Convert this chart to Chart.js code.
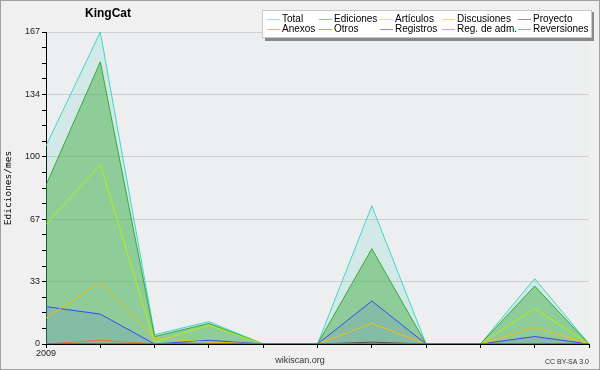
<!DOCTYPE html>
<html>
<head>
<meta charset="utf-8">
<script src="https://cdn.jsdelivr.net/npm/chart.js@4"></script>
<style>
  body { margin: 0; background: #f0f0f0; }
  canvas { display: block; }
</style>
</head>
<body>
<canvas id="chart" width="600" height="370"></canvas>
<script>
// months shown on the x axis (only the year is labelled)
const months = ['2009-01', '2009-02', '2009-03', '2009-04', '2009-05', '2009-06',
                '2009-07', '2009-08', '2009-09', '2009-10', '2009-11'];
const yearLabel = '2009';
const yMax = 167;
const yTickLabels = ['0', '33', '67', '100', '134', '167'];

const total       = [106, 167, 5, 12, 0, 0, 74, 0, 0, 35, 0];
const ediciones   = [85, 151, 4, 11, 0, 0, 51, 0, 0, 31, 0];
const articulos   = [64, 96, 1, 10, 0, 0, 0, 0, 0, 19, 0];
const discusiones = [14, 33, 3, 1, 0, 0, 11, 0, 0, 9, 0];
const proyecto    = [0, 0, 0, 0, 0, 0, 1, 0, 0, 0, 0];
const anexos      = [0, 2, 0, 0, 0, 0, 0, 0, 0, 0, 0];
const otros       = [0, 0, 0, 0, 0, 0, 0, 0, 0, 0, 0];
const registros   = [20, 16, 0, 2, 0, 0, 23, 0, 0, 4, 0];
const regAdm      = [0, 0, 0, 0, 0, 0, 0, 0, 0, 0, 0];
const reversiones = [0, 0, 0, 0, 0, 0, 0, 0, 0, 0, 0];

const FONT = "'Liberation Sans', Arial, sans-serif";

function line(label, data, color, order, fill) {
    return {
        label: label,
        data: data,
        borderColor: color,
        backgroundColor: fill || 'transparent',
        fill: fill ? 'origin' : false,
        borderWidth: 1,
        pointRadius: 0,
        tension: 0,
        order: order
    };
}

const datasets = [
    line('Total', total, '#3cd8c8', 20, 'rgba(60,210,190,0.15)'),
    line('Ediciones', ediciones, '#38a838', 19, 'rgba(60,170,60,0.45)'),
    line('Artículos', articulos, '#b0f010', 5),
    line('Discusiones', discusiones, '#f0c010', 6),
    line('Proyecto', proyecto, '#505050', 4),
    line('Anexos', anexos, '#f07030', 3),
    line('Otros', otros, '#9040f0', 2),
    line('Registros', registros, '#3c48f0', 18, 'rgba(64,64,255,0.12)'),
    line('Reg. de adm.', regAdm, '#e040f0', 1),
    line('Reversiones', reversiones, '#f03030', 0)
];

// legend grid: two rows of five
const legendCols = [267, 319, 380, 442, 518];
const legendRows = [
    ['Total', 'Ediciones', 'Artículos', 'Discusiones', 'Proyecto'],
    ['Anexos', 'Otros', 'Registros', 'Reg. de adm.', 'Reversiones']
];

const decor = {
    id: 'decor',
    beforeDraw(chart) {
        const ctx = chart.ctx;
        const a = chart.chartArea;
        ctx.save();
        ctx.fillStyle = '#f0f0f0';
        ctx.fillRect(0, 0, chart.width, chart.height);
        ctx.fillStyle = '#edeef0';
        ctx.fillRect(a.left, a.top, a.right - a.left, a.bottom - a.top);
        ctx.restore();
    },
    afterDraw(chart) {
        const ctx = chart.ctx;
        ctx.save();
        // title
        ctx.fillStyle = '#000';
        ctx.font = 'bold 12px ' + FONT;
        ctx.textAlign = 'center';
        ctx.textBaseline = 'middle';
        ctx.fillText('KingCat', 108, 14);

        // legend box
        ctx.fillStyle = '#888';
        ctx.fillRect(265, 12, 329, 29);
        ctx.fillStyle = '#fff';
        ctx.fillRect(262, 10, 330, 28);
        ctx.strokeStyle = '#c8c8c8';
        ctx.lineWidth = 1;
        ctx.strokeRect(262.5, 10.5, 329, 27);

        ctx.font = '10px ' + FONT;
        ctx.textAlign = 'left';
        legendRows.forEach((row, r) => {
            const y = 19.5 + r * 10;
            row.forEach((name, c) => {
                const ds = datasets.find(d => d.label === name);
                const x = legendCols[c];
                ctx.globalAlpha = 0.6;
                ctx.strokeStyle = ds.borderColor;
                ctx.beginPath();
                ctx.moveTo(x, y);
                ctx.lineTo(x + 13, y);
                ctx.stroke();
                ctx.globalAlpha = 1;
                ctx.fillStyle = '#000';
                ctx.fillText(name, x + 15, y);
            });
        });

        // footer
        ctx.fillStyle = '#333';
        ctx.font = '9px ' + FONT;
        ctx.textAlign = 'center';
        ctx.fillText('wikiscan.org', 300, 361);
        ctx.font = '7px ' + FONT;
        ctx.textAlign = 'right';
        ctx.fillText('CC BY-SA 3.0', 589, 362);

        // outer frame
        ctx.strokeStyle = '#a0a0a0';
        ctx.strokeRect(0.5, 0.5, chart.width - 1, chart.height - 1);
        ctx.restore();
    }
};

new Chart(document.getElementById('chart'), {
    type: 'line',
    data: { labels: months, datasets: datasets },
    options: {
        responsive: false,
        animation: false,
        layout: { padding: { top: 32, right: 11, left: 0, bottom: 0 } },
        plugins: {
            legend: { display: false },
            tooltip: { enabled: false },
            title: { display: false }
        },
        scales: {
            x: {
                z: 1,
                offset: false,
                afterFit: scale => { scale.height = 26; },
                grid: { drawOnChartArea: false, tickLength: 4, tickColor: '#000' },
                border: { color: '#000', width: 1 },
                ticks: {
                    autoSkip: false,
                    maxRotation: 0,
                    padding: 0,
                    color: '#222',
                    font: { family: FONT, size: 9 },
                    callback: (v, i) => i === 0 ? yearLabel : ''
                }
            },
            y: {
                min: 0,
                max: yMax,
                afterFit: scale => { scale.width = 46; },
                afterBuildTicks: scale => {
                    const t = [];
                    for (let i = 0; i <= 20; i++) t.push({ value: yMax * i / 20 });
                    scale.ticks = t;
                },
                grid: {
                    tickLength: 4,
                    tickColor: '#000',
                    color: c => (c.index % 4 === 0 && c.index > 0) ? '#cfcfcf' : 'rgba(0,0,0,0)'
                },
                border: { color: '#000', width: 1 },
                title: {
                    display: true,
                    text: 'Ediciones/mes',
                    color: '#000',
                    padding: { top: 3, bottom: 0 },
                    font: { family: "'DejaVu Sans Mono', monospace", size: 9.5 }
                },
                ticks: {
                    autoSkip: false,
                    padding: 2,
                    color: '#222',
                    font: { family: FONT, size: 9 },
                    callback: (v, i) => i % 4 === 0 ? yTickLabels[i / 4] : ''
                }
            }
        }
    },
    plugins: [decor]
});
</script>
</body>
</html>
